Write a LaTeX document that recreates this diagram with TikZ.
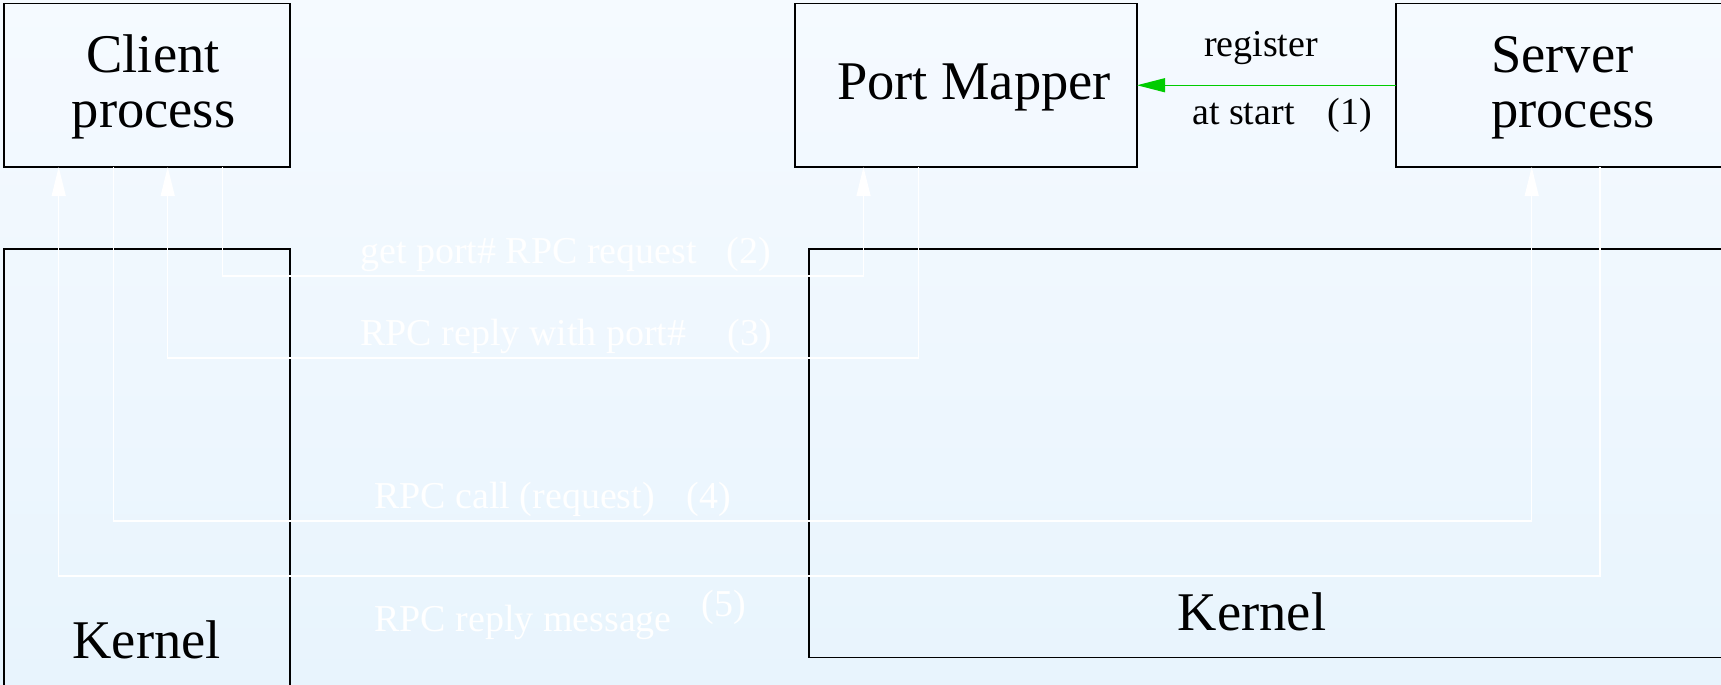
\documentclass[tikz,border=0pt]{standalone}
\usepackage{fontspec}
\setmainfont{Liberation Serif}
\usetikzlibrary{arrows.meta}
\definecolor{bgtop}{RGB}{245,250,255}
\definecolor{bgbot}{RGB}{232,244,253}
\definecolor{reggreen}{RGB}{0,204,0}
\tikzset{
  frame/.style={draw=black, line width=1.4pt, inner sep=0pt, outer sep=0pt,
                anchor=north west, rectangle},
  big/.style={font=\fontsize{54.5}{54.5}\selectfont, inner sep=0pt, anchor=base},
  small/.style={font=\fontsize{38}{38}\selectfont, inner sep=0pt},
  msgtext/.style={small, text=white, anchor=base west},
  msg/.style={draw=white, line width=1.3pt},
  msgarrow/.style={msg, -{Triangle[length=29pt,width=14pt]}},
  regarrow/.style={draw=reggreen, line width=1.3pt,
                   -{Triangle[length=28pt,width=14pt]}}
}
\begin{document}
\begin{tikzpicture}[x=1pt,y=-1pt]
  \useasboundingbox (0,0) rectangle (1721,685);
  \clip (0,0) rectangle (1721,685);
  \shade[top color=bgtop, bottom color=bgbot] (0,0) rectangle (1721,685);

  % processes in user space
  \node[frame, minimum width=286, minimum height=163.5] (client) at (4,3.5) {};
  \node[frame, minimum width=342, minimum height=163.5] (pm) at (795,3.5) {};
  \node[frame, minimum width=360, minimum height=163.5] (server) at (1396,3.5) {};
  \node[big] (clientA) at (153,73) {Client};
  \node[big] (clientB) at (153.5,127) {process};
  \node[big] (pmtext) at (974,99.3) {Port Mapper};
  \node[big, anchor=base west] (serverA) at (1491,72) {Server};
  \node[big, anchor=base west] (serverB) at (1491,127) {process};

  % kernels
  \node[frame, minimum width=286, minimum height=480] (kernL) at (4,249) {};
  \node[frame, minimum width=960, minimum height=408.7] (kernR) at (809,249) {};
  \node[big] (kernLtext) at (146.6,658.3) {Kernel};
  \node[big] (kernRtext) at (1252,630) {Kernel};

  % registration of the server with the port mapper
  \draw[regarrow] (server.west) -- (pm.east);
  \node[small, anchor=base] (reg) at (1261,57) {register};
  \node[small, anchor=base west] (atstart) at (1192,124) {at start\hspace{33pt}(1)};

  % RPC message flow
  \draw[msgarrow] ([xshift=75.3pt]client.south) -- ++(0,109)
        -| ([xshift=-102.5pt]pm.south);
  \draw[msgarrow] ([xshift=-47.7pt]pm.south) -- ++(0,191)
        -| ([xshift=20.7pt]client.south);
  \draw[msgarrow] ([xshift=-33.7pt]client.south) -- ++(0,354)
        -| ([xshift=135.7pt]server.south west);
  \draw[msgarrow] ([xshift=204pt]server.south west) -- ++(0,409)
        -| ([xshift=-88.3pt]client.south);

  \node[msgtext] (m2) at (360,263) {get port\# RPC request\hspace{30pt}(2)};
  \node[msgtext] (m3) at (360,345) {RPC reply with port\#\hspace{41pt}(3)};
  \node[msgtext] (m4) at (374,508) {RPC call (request)\hspace{32pt}(4)};
  \node[msgtext] (m5) at (374,631) {RPC reply message\hspace{30pt}\raisebox{15pt}{(5)}};
\end{tikzpicture}
\end{document}
